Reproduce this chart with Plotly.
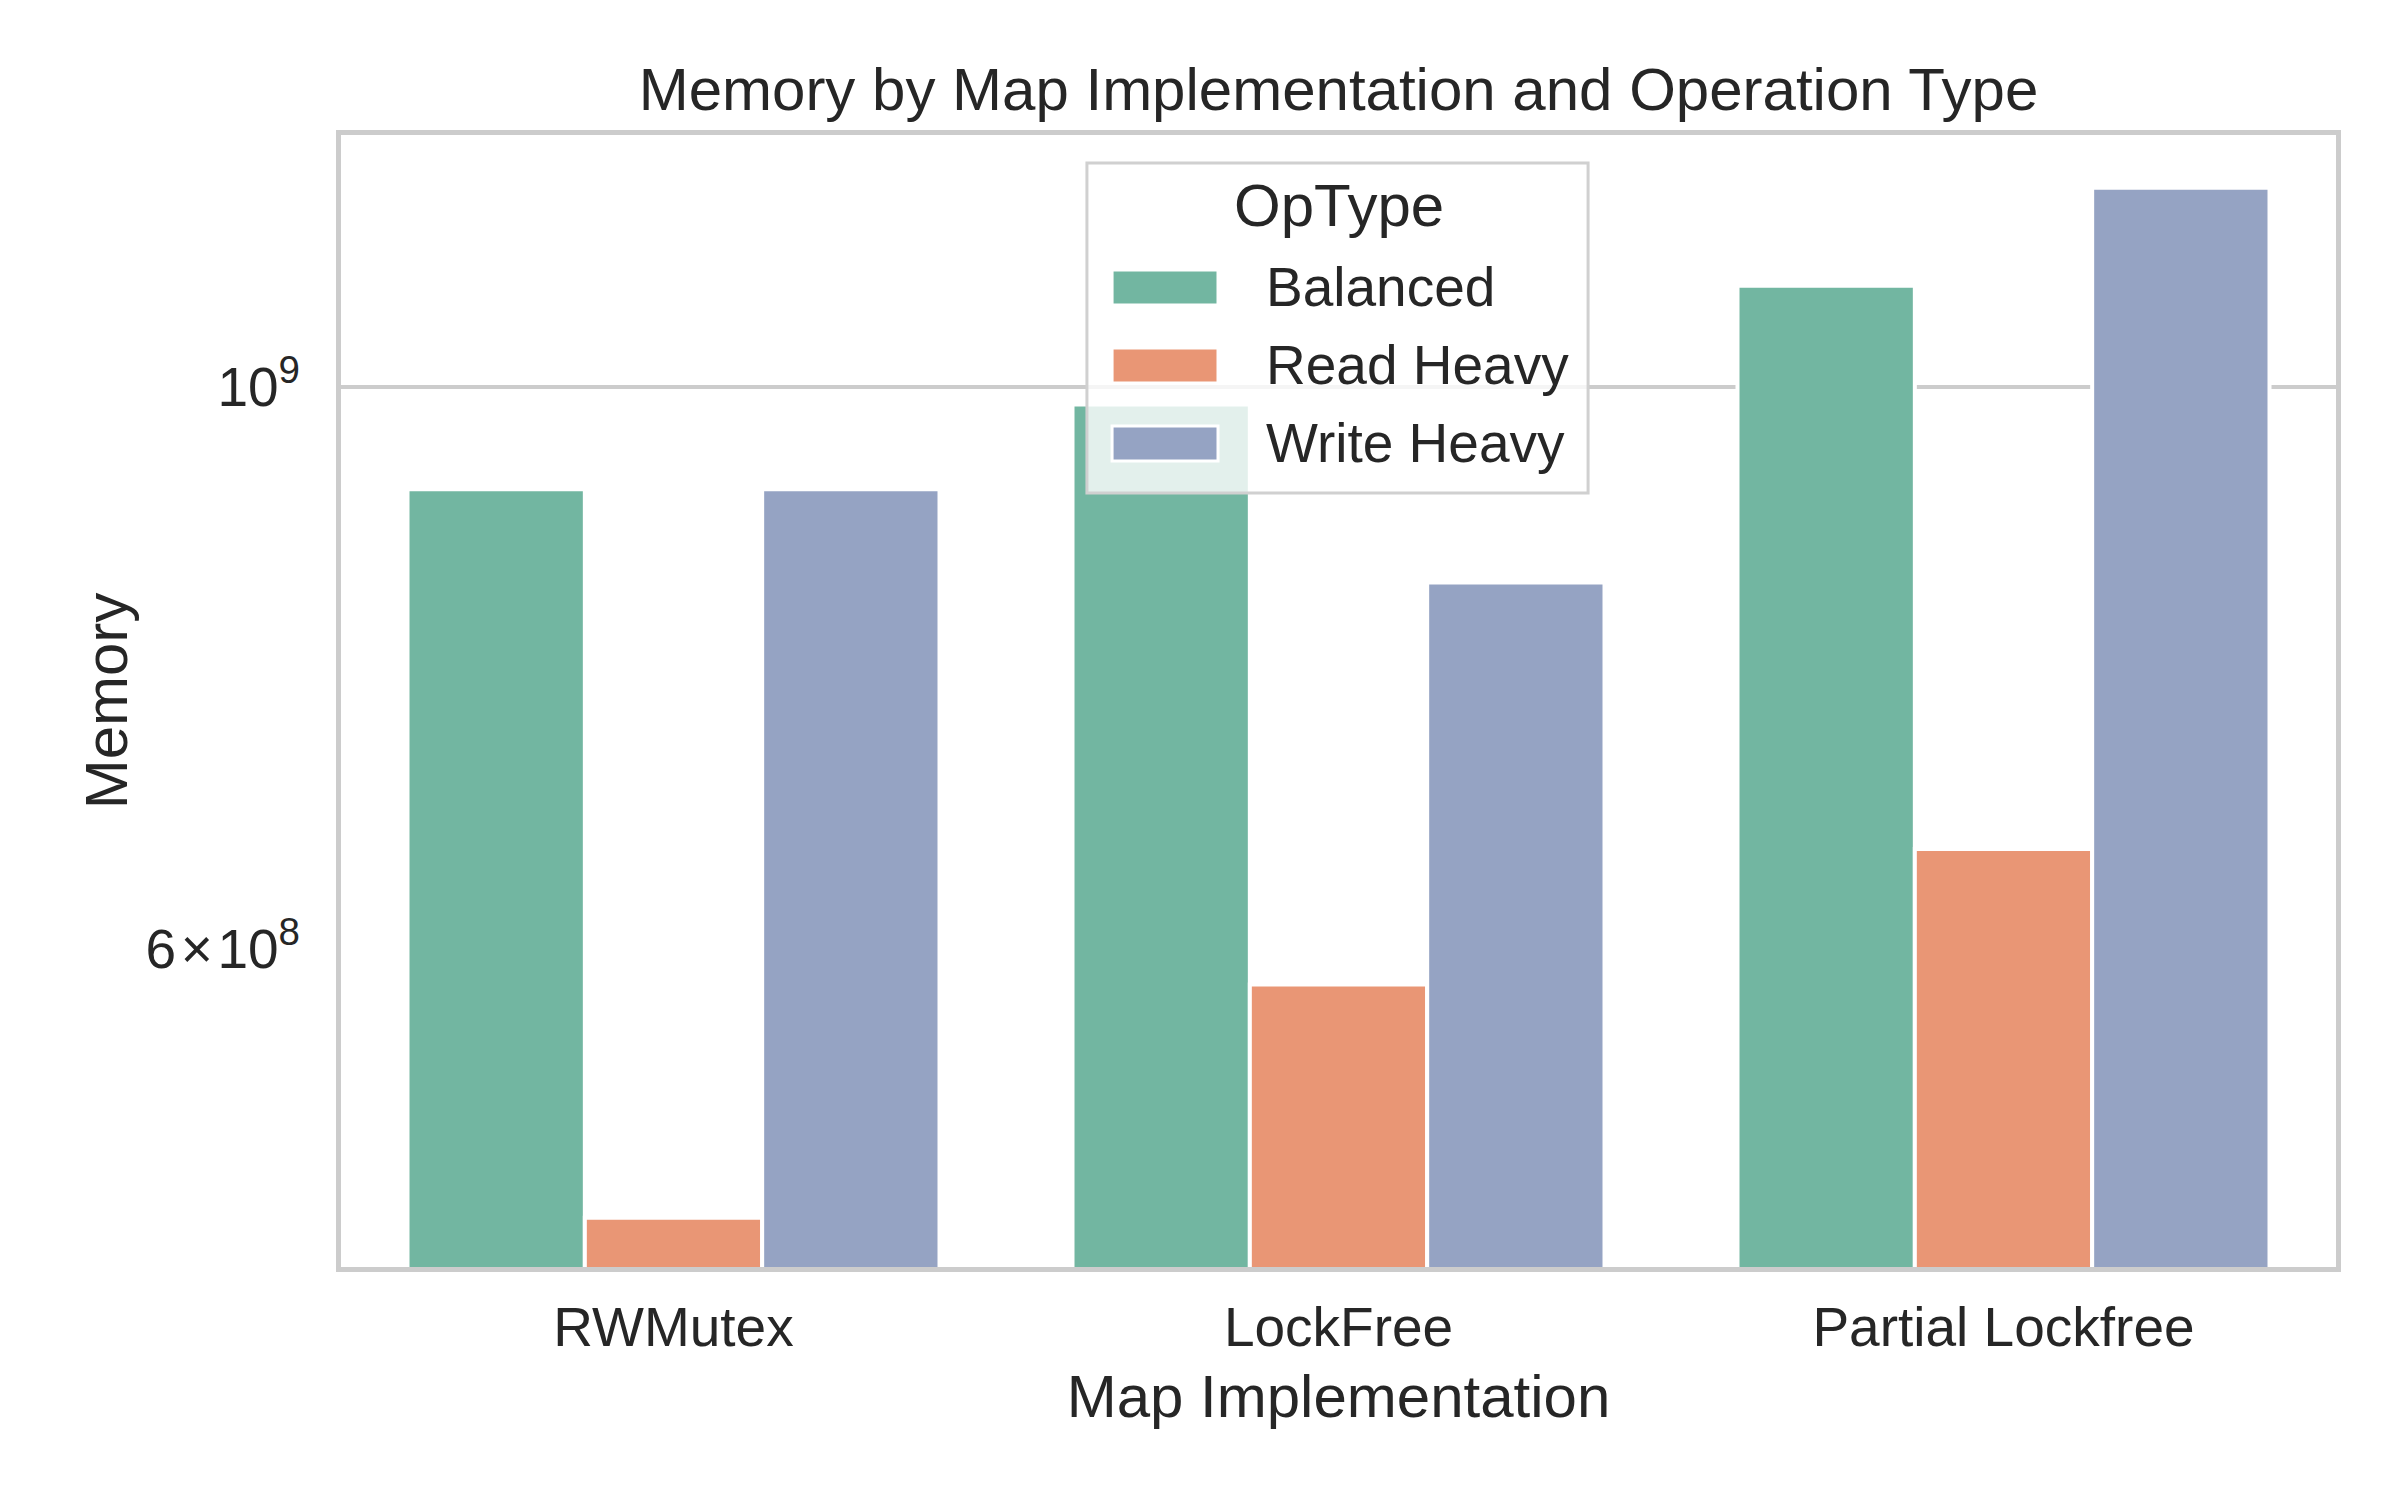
import plotly.graph_objects as go

categories = ["RWMutex", "LockFree", "Partial Lockfree"]
op_types = ["Balanced", "Read Heavy", "Write Heavy"]
balanced = [9.11e8, 9.84e8, 1.096e9]
read_heavy = [4.70e8, 5.81e8, 6.57e8]
write_heavy = [9.11e8, 8.37e8, 1.198e9]
series = [balanced, read_heavy, write_heavy]
colors = ["#72b6a1", "#e99675", "#95a3c3"]

y_tickvals = [6e8, 1e9]
y_ticktext = ["6\u200a×\u200a10<sup>8</sup>", "10<sup>9</sup>"]

TXT = "#262626"
FONT = "Liberation Sans, Arial, sans-serif"

fig = go.Figure()
for name, vals, col in zip(op_types, series, colors):
    fig.add_trace(go.Bar(
        x=categories, y=vals, name=name, showlegend=False,
        marker=dict(color=col, line=dict(color="white", width=4)),
    ))

# Legend drawn as a matplotlib-style box (plotly's bar swatches are fixed tiny squares)
shapes = [dict(type="rect", xref="paper", yref="paper", layer="above",
               x0=0.3739, x1=0.6251, y0=0.6837, y1=0.9753,
               fillcolor="rgba(255,255,255,0.8)",
               line=dict(color="#d0d0d0", width=3))]
annotations = [dict(text="OpType", xref="paper", yref="paper", x=0.5003, y=0.9373,
                    xanchor="center", yanchor="middle", showarrow=False,
                    font=dict(size=60, color=TXT, family=FONT))]
row_top, row_step, sw_h = 0.8807, 0.0689, 0.0309
for i, (name, col) in enumerate(zip(op_types, colors)):
    y1 = row_top - i * row_step
    shapes.append(dict(type="rect", xref="paper", yref="paper", layer="above",
                       x0=0.3865, x1=0.4396, y0=y1 - sw_h, y1=y1,
                       fillcolor=col, line=dict(color="white", width=3)))
    annotations.append(dict(text=name, xref="paper", yref="paper",
                            x=0.4625, y=y1 - sw_h / 2 + 0.0005,
                            xanchor="left", yanchor="middle", showarrow=False,
                            font=dict(size=55, color=TXT, family=FONT)))

fig.update_layout(
    width=2400, height=1500,
    paper_bgcolor="white", plot_bgcolor="white",
    font=dict(family=FONT, color=TXT, size=55),
    margin=dict(l=341, r=64, t=135, b=233),
    barmode="group", bargap=0.2, bargroupgap=0,
    title=dict(text="Memory by Map Implementation and Operation Type",
               x=0.5, xref="paper", xanchor="center",
               y=1 - 89 / 1500, yref="container", yanchor="middle",
               font=dict(size=60, color=TXT, family=FONT)),
    shapes=shapes,
    annotations=annotations,
    showlegend=False,
)

fig.update_xaxes(
    title=dict(text="Map Implementation", font=dict(size=60, color=TXT), standoff=19),
    showline=True, linecolor="#cccccc", linewidth=5, mirror=True,
    showgrid=False, ticks="", ticklabelstandoff=8,
    tickfont=dict(size=55, color=TXT),
)
fig.update_yaxes(
    type="log", range=[8.6527, 9.0993],
    title=dict(text="Memory", font=dict(size=60, color=TXT), standoff=0),
    showline=True, linecolor="#cccccc", linewidth=5, mirror=True,
    tickvals=y_tickvals, ticktext=y_ticktext, ticks="", ticklabelstandoff=25,
    tickfont=dict(size=55, color=TXT),
    showgrid=False, zeroline=False,
    minor=dict(tickvals=[1e9], showgrid=True, gridcolor="#cccccc", gridwidth=4, ticks=""),
)

fig.write_html("out.html")
